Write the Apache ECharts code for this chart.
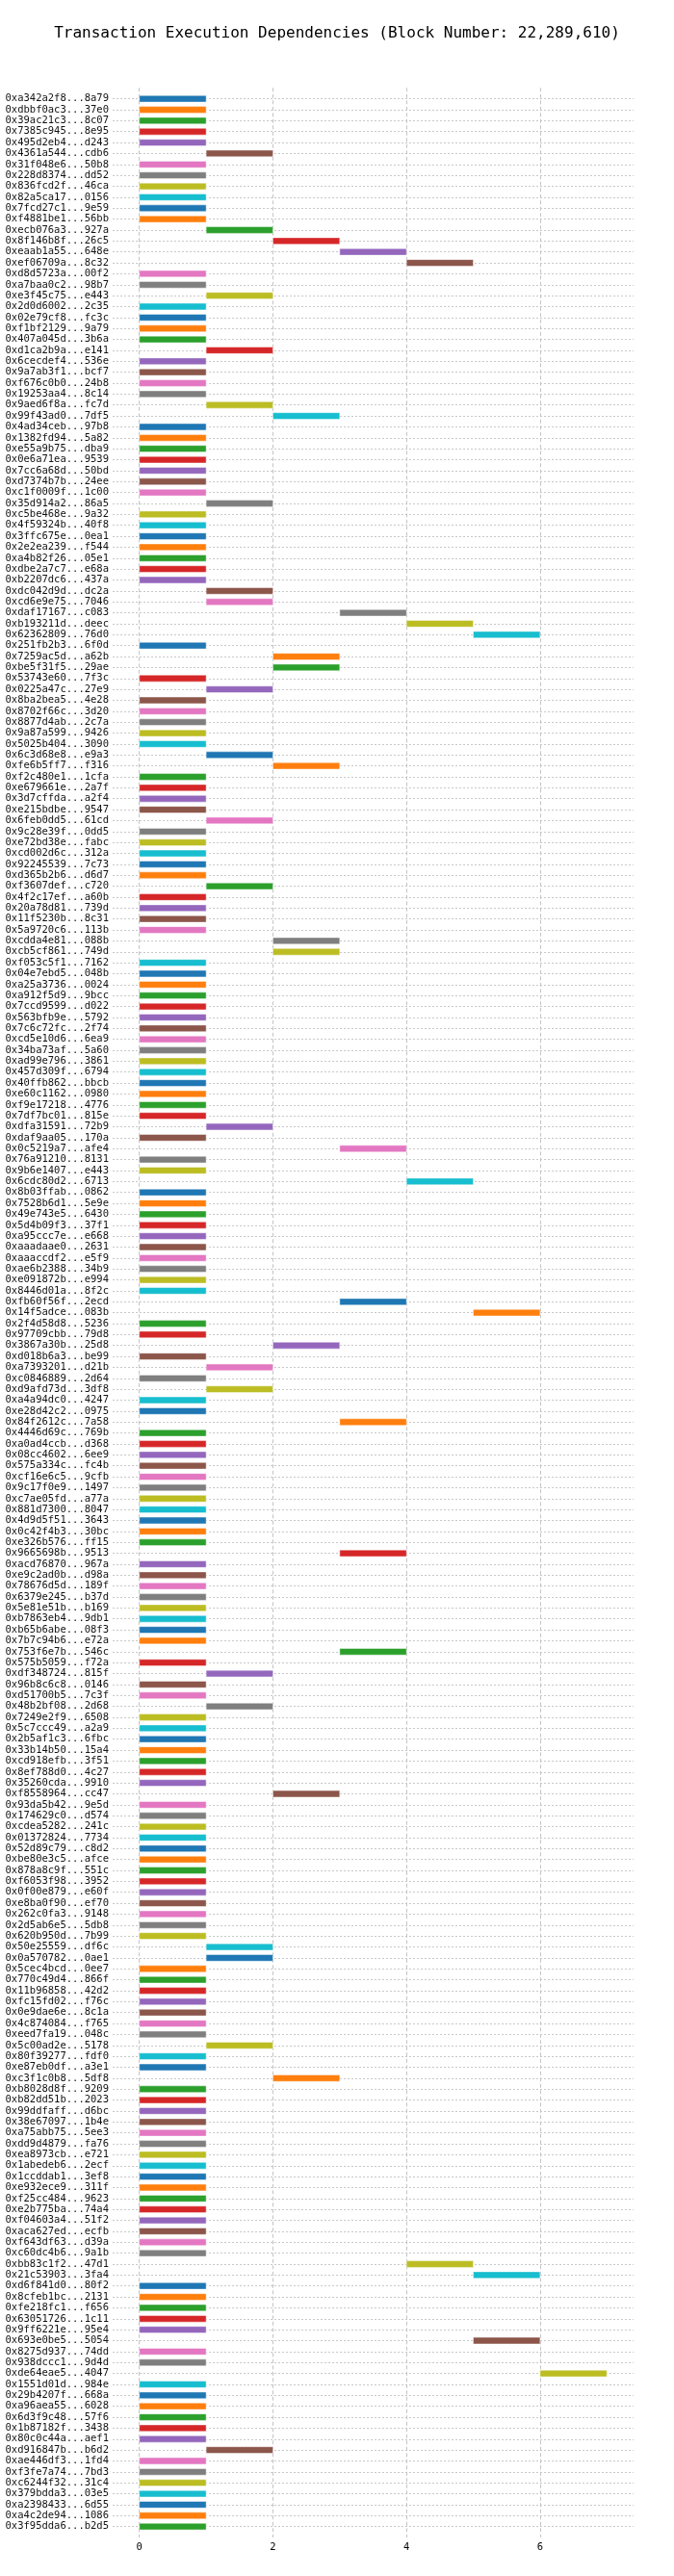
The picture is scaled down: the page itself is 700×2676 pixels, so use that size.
<!DOCTYPE html>
<html>
<head>
<meta charset="utf-8">
<title>Transaction Execution Dependencies</title>
<script src="https://cdn.jsdelivr.net/npm/echarts@6/dist/echarts.min.js"></script>
<style>
  html, body { margin: 0; padding: 0; background: #fff; }
  #chart { width: 700px; height: 2676px; }
</style>
</head>
<body>
<div id="chart"></div>
<script>
// transaction hashes, top to bottom
const txLabels = [
  '0xa342a2f8...8a79', '0xdbbf0ac3...37e0', '0x39ac21c3...8c07', '0x7385c945...8e95', '0x495d2eb4...d243',
  '0x4361a544...cdb6', '0x31f048e6...50b8', '0x228d8374...dd52', '0x836fcd2f...46ca', '0x82a5ca17...0156',
  '0x7fcd27c1...9e59', '0xf4881be1...56bb', '0xecb076a3...927a', '0x8f146b8f...26c5', '0xeaab1a55...648e',
  '0xef06709a...8c32', '0xd8d5723a...00f2', '0xa7baa0c2...98b7', '0xe3f45c75...e443', '0x2d0d6002...2c35',
  '0x02e79cf8...fc3c', '0xf1bf2129...9a79', '0x407a045d...3b6a', '0xd1ca2b9a...e141', '0x6cecdef4...536e',
  '0x9a7ab3f1...bcf7', '0xf676c0b0...24b8', '0x19253aa4...8c14', '0x9aed6f8a...fc7d', '0x99f43ad0...7df5',
  '0x4ad34ceb...97b8', '0x1382fd94...5a82', '0xe55a9b75...dba9', '0x0e6a71ea...9539', '0x7cc6a68d...50bd',
  '0xd7374b7b...24ee', '0xc1f0009f...1c00', '0x35d914a2...86a5', '0xc5be468e...9a32', '0x4f59324b...40f8',
  '0x3ffc675e...0ea1', '0x2e2ea239...f544', '0xa4b82f26...05e1', '0xdbe2a7c7...e68a', '0xb2207dc6...437a',
  '0xdc042d9d...dc2a', '0xcd6e9e75...7046', '0xdaf17167...c083', '0xb193211d...deec', '0x62362809...76d0',
  '0x251fb2b3...6f0d', '0x7259ac5d...a62b', '0xbe5f31f5...29ae', '0x53743e60...7f3c', '0x0225a47c...27e9',
  '0x8ba2bea5...4e28', '0x8702f66c...3d20', '0x8877d4ab...2c7a', '0x9a87a599...9426', '0x5025b404...3090',
  '0x6c3d68e8...e9a3', '0xfe6b5ff7...f316', '0xf2c480e1...1cfa', '0xe679661e...2a7f', '0x3d7cffda...a2f4',
  '0xe215bdbe...9547', '0x6feb0dd5...61cd', '0x9c28e39f...0dd5', '0xe72bd38e...fabc', '0xcd002d6c...312a',
  '0x92245539...7c73', '0xd365b2b6...d6d7', '0xf3607def...c720', '0x4f2c17ef...a60b', '0x20a78d81...739d',
  '0x11f5230b...8c31', '0x5a9720c6...113b', '0xcdda4e81...088b', '0xcb5cf861...749d', '0xf053c5f1...7162',
  '0x04e7ebd5...048b', '0xa25a3736...0024', '0xa912f5d9...9bcc', '0x7ccd9599...d022', '0x563bfb9e...5792',
  '0x7c6c72fc...2f74', '0xcd5e10d6...6ea9', '0x34ba73af...5a60', '0xad99e796...3861', '0x457d309f...6794',
  '0x40ffb862...bbcb', '0xe60c1162...0980', '0xf9e17218...4776', '0x7df7bc01...815e', '0xdfa31591...72b9',
  '0xdaf9aa05...170a', '0x0c5219a7...afe4', '0x76a91210...8131', '0x9b6e1407...e443', '0x6cdc80d2...6713',
  '0x8b03ffab...0862', '0x7528b6d1...5e9e', '0x49e743e5...6430', '0x5d4b09f3...37f1', '0xa95ccc7e...e668',
  '0xaaadaae0...2631', '0xaaaccdf2...e5f9', '0xae6b2388...34b9', '0xe091872b...e994', '0x8446d01a...8f2c',
  '0xfb60f56f...2ecd', '0x14f5adce...083b', '0x2f4d58d8...5236', '0x97709cbb...79d8', '0x3867a30b...25d8',
  '0xd018b6a3...be99', '0xa7393201...d21b', '0xc0846889...2d64', '0xd9afd73d...3df8', '0xa4a94dc0...4247',
  '0xe28d42c2...0975', '0x84f2612c...7a58', '0x4446d69c...769b', '0xa0ad4ccb...d368', '0x08cc4602...6ee9',
  '0x575a334c...fc4b', '0xcf16e6c5...9cfb', '0x9c17f0e9...1497', '0xc7ae05fd...a77a', '0x881d7300...8047',
  '0x4d9d5f51...3643', '0x0c42f4b3...30bc', '0xe326b576...ff15', '0x9665698b...9513', '0xacd76870...967a',
  '0xe9c2ad0b...d98a', '0x78676d5d...189f', '0x6379e245...b37d', '0x5e81e51b...b169', '0xb7863eb4...9db1',
  '0xb65b6abe...08f3', '0x7b7c94b6...e72a', '0x753f6e7b...546c', '0x575b5059...f72a', '0xdf348724...815f',
  '0x96b8c6c8...0146', '0xd51700b5...7c3f', '0x48b2bf08...2d68', '0x7249e2f9...6508', '0x5c7ccc49...a2a9',
  '0x2b5af1c3...6fbc', '0x33b14b50...15a4', '0xcd918efb...3f51', '0x8ef788d0...4c27', '0x35260cda...9910',
  '0xf8558964...cc47', '0x93da5b42...9e5d', '0x174629c0...d574', '0xcdea5282...241c', '0x01372824...7734',
  '0x52d89c79...c8d2', '0xbe80e3c5...afce', '0x878a8c9f...551c', '0xf6053f98...3952', '0x0f00e879...e60f',
  '0xe8ba0f90...ef70', '0x262c0fa3...9148', '0x2d5ab6e5...5db8', '0x620b950d...7b99', '0x50e25559...df6c',
  '0x0a570782...0ae1', '0x5cec4bcd...0ee7', '0x770c49d4...866f', '0x11b96858...42d2', '0xfc15fd02...f76c',
  '0x0e9dae6e...8c1a', '0x4c874084...f765', '0xeed7fa19...048c', '0x5c00ad2e...5178', '0x80f39277...fdf0',
  '0xe87eb0df...a3e1', '0xc3f1c0b8...5df8', '0xb8028d8f...9209', '0xb82dd51b...2023', '0x99ddfaff...d6bc',
  '0x38e67097...1b4e', '0xa75abb75...5ee3', '0xdd9d4879...fa76', '0xea8973cb...e721', '0x1abedeb6...2ecf',
  '0x1ccddab1...3ef8', '0xe932ece9...311f', '0xf25cc484...9623', '0xe2b775ba...74a4', '0xf04603a4...51f2',
  '0xaca627ed...ecfb', '0xf643df63...d39a', '0xc60dc4b6...9a1b', '0xbb83c1f2...47d1', '0x21c53903...3fa4',
  '0xd6f841d0...80f2', '0x8cfeb1bc...2131', '0xfe218fc1...f656', '0x63051726...1c11', '0x9ff6221e...95e4',
  '0x693e0be5...5054', '0x8275d937...74dd', '0x938dccc1...9d4d', '0xde64eae5...4047', '0x1551d01d...984e',
  '0x29b4207f...668a', '0xa96aea55...6028', '0x6d3f9c48...57f6', '0x1b87182f...3438', '0x80c0c44a...aef1',
  '0xd916847b...b6d2', '0xae446df3...1fd4', '0xf3fe7a74...7bd3', '0xc6244f32...31c4', '0x379bdda3...03e5',
  '0xa2398433...6d55', '0xa4c2de94...1086', '0x3f95dda6...b2d5'
];

// execution step where each tx starts
const startSteps = [
  0,0,0,0,0,1,0,0,0,0, 0,0,1,2,3,4,0,0,1,0,
  0,0,0,1,0,0,0,0,1,2, 0,0,0,0,0,0,0,1,0,0,
  0,0,0,0,0,1,1,3,4,5, 0,2,2,0,1,0,0,0,0,0,
  1,2,0,0,0,0,1,0,0,0, 0,0,1,0,0,0,0,2,2,0,
  0,0,0,0,0,0,0,0,0,0, 0,0,0,0,1,0,3,0,0,4,
  0,0,0,0,0,0,0,0,0,0, 3,5,0,0,2,0,1,0,1,0,
  0,3,0,0,0,0,0,0,0,0, 0,0,0,3,0,0,0,0,0,0,
  0,0,3,0,1,0,0,1,0,0, 0,0,0,0,0,2,0,0,0,0,
  0,0,0,0,0,0,0,0,0,1, 1,0,0,0,0,0,0,0,1,0,
  0,2,0,0,0,0,0,0,0,0, 0,0,0,0,0,0,0,0,4,5,
  0,0,0,0,0,5,0,0,6,0, 0,0,0,0,0,1,0,0,0,0,
  0,0,0
];

// execution step where each tx ends
const endSteps = [
  1,1,1,1,1,2,1,1,1,1, 1,1,2,3,4,5,1,1,2,1,
  1,1,1,2,1,1,1,1,2,3, 1,1,1,1,1,1,1,2,1,1,
  1,1,1,1,1,2,2,4,5,6, 1,3,3,1,2,1,1,1,1,1,
  2,3,1,1,1,1,2,1,1,1, 1,1,2,1,1,1,1,3,3,1,
  1,1,1,1,1,1,1,1,1,1, 1,1,1,1,2,1,4,1,1,5,
  1,1,1,1,1,1,1,1,1,1, 4,6,1,1,3,1,2,1,2,1,
  1,4,1,1,1,1,1,1,1,1, 1,1,1,4,1,1,1,1,1,1,
  1,1,4,1,2,1,1,2,1,1, 1,1,1,1,1,3,1,1,1,1,
  1,1,1,1,1,1,1,1,1,2, 2,1,1,1,1,1,1,1,2,1,
  1,3,1,1,1,1,1,1,1,1, 1,1,1,1,1,1,1,1,5,6,
  1,1,1,1,1,6,1,1,7,1, 1,1,1,1,1,2,1,1,1,1,
  1,1,1
];

const xTickValues = [0, 2, 4, 6];

const palette = ['#1f77b4', '#ff7f0e', '#2ca02c', '#d62728', '#9467bd',
                 '#8c564b', '#e377c2', '#7f7f7f', '#bcbd22', '#17becf'];

const MONO = "'DejaVu Sans Mono', monospace";

var chart = echarts.init(document.getElementById('chart'), null, { renderer: 'canvas' });

var rows = txLabels.map((name, i) => [startSteps[i], endSteps[i], i, name]);

function renderBar(params, api) {
  var idx = api.value(2);
  var p0 = api.coord([api.value(0), idx]);
  var p1 = api.coord([api.value(1), idx]);
  var h = api.size([0, 1])[1] * 0.6;
  return {
    type: 'rect',
    shape: { x: p0[0], y: p0[1] - h / 2, width: p1[0] - p0[0], height: h },
    style: {
      fill: palette[idx % palette.length],
      stroke: 'rgba(255,255,255,0.45)',
      lineWidth: 1
    }
  };
}

var option = {
  animation: false,
  backgroundColor: '#fff',
  title: {
    text: 'Transaction Execution Dependencies (Block Number: 22,289,610)',
    left: 'center',
    top: 22,
    textStyle: { fontFamily: MONO, fontSize: 16, fontWeight: 'normal', color: '#000' }
  },
  grid: { left: 117, right: 42, top: 91.3, bottom: 40 },
  xAxis: {
    type: 'value',
    min: -0.4,
    max: 7.4,
    axisLine: { show: false },
    axisTick: { show: false, customValues: xTickValues },
    axisLabel: {
      customValues: xTickValues,
      fontFamily: MONO, fontSize: 10.5, color: '#000', margin: 5
    },
    splitLine: { show: false }
  },
  yAxis: {
    type: 'value',
    inverse: true,
    min: -1,
    max: txLabels.length,
    interval: 1,
    axisLine: { show: false },
    axisTick: { show: false },
    axisLabel: {
      fontFamily: MONO, fontSize: 10.5, color: '#111', margin: 4,
      showMinLabel: false, showMaxLabel: false,
      formatter: function (v) { return txLabels[v] || ''; }
    },
    splitLine: {
      show: true,
      showMinLine: false,
      showMaxLine: false,
      lineStyle: { color: '#c8c8c8', width: 1, type: [2, 2] }
    }
  },
  series: [{
    // vertical grid at the x ticks
    type: 'scatter',
    data: [],
    silent: true,
    z: 1,
    markLine: {
      silent: true,
      symbol: 'none',
      label: { show: false },
      lineStyle: { color: '#c4c4c4', width: 1, type: [4, 2.5] },
      data: xTickValues.map(v => ({ xAxis: v }))
    }
  }, {
    type: 'custom',
    renderItem: renderBar,
    encode: { x: [0, 1], y: 2 },
    data: rows,
    z: 5
  }]
};

chart.setOption(option);
</script>
</body>
</html>
